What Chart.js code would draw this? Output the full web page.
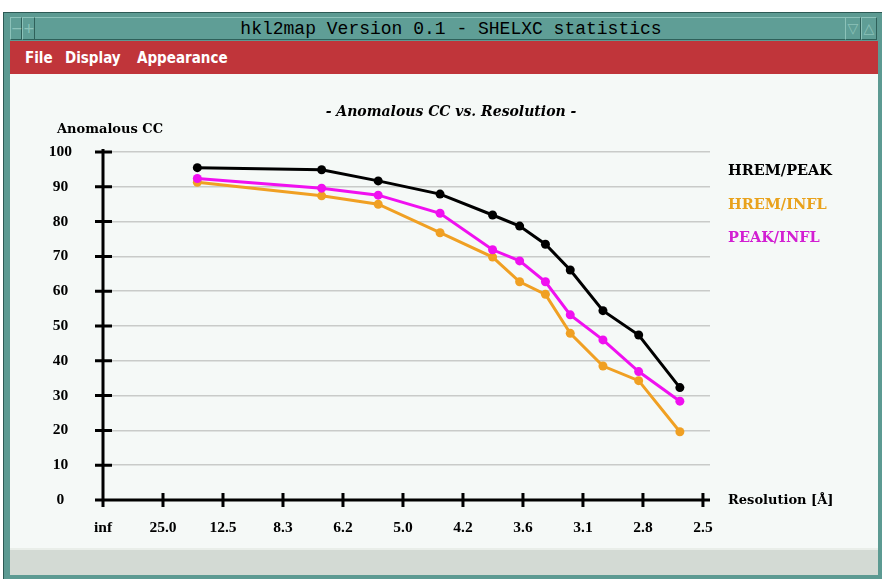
<!DOCTYPE html>
<html>
<head>
<meta charset="utf-8">
<script src="https://cdn.jsdelivr.net/npm/chart.js@4/dist/chart.umd.min.js"></script>
<style>
  body { margin: 0; width: 882px; height: 579px; background: #fff; position: relative; overflow: hidden; }
  .abs { position: absolute; }
  #frame { left: 3px; top: 12px; width: 900px; height: 580px; background: #5c9a92; border: 1px solid #2d5a55; box-sizing: border-box; }
  #titlebar { left: 10px; top: 17px; width: 835px; height: 23px; background: #5f9e96; border-top: 1px solid #8cc2b9; border-bottom: 1px solid #2f605a; box-sizing: border-box; }
  .btn { top: 17px; height: 23px; background: #5f9e96; border: 1px solid #8cc2b9; border-right-color: #2f605a; border-bottom-color: #2f605a; box-sizing: border-box; color: #8cc2b9; font: 14px 'DejaVu Sans', sans-serif; line-height: 20px; text-align: center; }
  #wintitle { left: 0; top: 18px; width: 902px; height: 23px; text-align: center; font: 18px 'Liberation Mono', 'DejaVu Sans Mono', monospace; line-height: 23px; color: #000; }
  #menubar { left: 10px; top: 41px; width: 868px; height: 33px; background: #c0353a; }
  .menu { top: 42px; color: #fff; font: bold 15px 'DejaVu Sans Condensed', 'DejaVu Sans', sans-serif; line-height: 33px; font-stretch: condensed; }
  #content { left: 10px; top: 74px; width: 868px; height: 474px; background: #f5f9f7; }
  #status { left: 10px; top: 548px; width: 868px; height: 27px; background: #d3dad4; border-top: 2px solid #e9eee9; box-sizing: border-box; }
  .txt { font-family: 'DejaVu Serif', serif; font-weight: bold; line-height: 20px; white-space: nowrap; }
</style>
</head>
<body>
<div id="frame" class="abs"></div>
<div id="titlebar" class="abs"></div>
<div class="abs btn" style="left:10px;width:12px;">&minus;</div>
<div class="abs btn" style="left:22px;width:13px;">+</div>
<div class="abs btn" style="left:845px;width:16px;">&#9661;</div>
<div class="abs btn" style="left:861px;width:16px;">&#9651;</div>
<div id="wintitle" class="abs">hkl2map Version 0.1 - SHELXC statistics</div>
<div id="menubar" class="abs"></div>
<div class="abs menu" style="left:25px;">File</div>
<div class="abs menu" style="left:65px;">Display</div>
<div class="abs menu" style="left:137px;">Appearance</div>
<div id="content" class="abs"><canvas id="cc" width="868" height="474"></canvas></div>
<div id="status" class="abs"></div>

<div class="abs txt" style="left:0;width:902px;top:101px;text-align:center;font-style:italic;font-size:14px;">- Anomalous CC vs. Resolution -</div>
<div class="abs txt" style="left:57px;top:119px;font-size:13px;">Anomalous CC</div>
<div class="abs txt" style="left:728px;top:490px;font-size:13px;">Resolution [&Aring;]</div>

<script>
// resolution of each shell (Angstrom)
const resolution = [15.9, 6.86, 5.45, 4.45, 3.85, 3.60, 3.39, 3.21, 3.00, 2.80, 2.60];
const hremPeak = [95.5, 94.9, 91.7, 87.9, 81.9, 78.7, 73.5, 66.1, 54.4, 47.4, 32.3];
const hremInfl = [91.3, 87.4, 85.0, 76.8, 69.8, 62.7, 59.1, 47.9, 38.5, 34.3, 19.6];
const peakInfl = [92.4, 89.6, 87.6, 82.4, 71.9, 68.7, 62.7, 53.2, 46.0, 36.9, 28.4];
const seriesNames = ['HREM/PEAK', 'HREM/INFL', 'PEAK/INFL'];
const xTickLabels = ['inf', '25.0', '12.5', '8.3', '6.2', '5.0', '4.2', '3.6', '3.1', '2.8', '2.5'];
const yTicks = [0, 10, 20, 30, 40, 50, 60, 70, 80, 90, 100];

const lineColors = ['#000000', '#f0a023', '#f010f0'];
const textColors = ['#000000', '#e9a21c', '#d21fd2'];

// x is plotted linear in 1/d, ticks every 0.04 (= 25 A, 12.5 A, ...)
const xTickValues = xTickLabels.map((l, i) => i * 0.04);
const toPts = vals => vals.map((v, i) => ({ x: 1 / resolution[i], y: v }));

// legend as plain text
const legendTop = [160, 193.5, 227];
seriesNames.forEach((name, i) => {
    const d = document.createElement('div');
    d.className = 'abs txt';
    d.style.cssText = `left:728px;top:${legendTop[i]}px;font-size:14.5px;color:${textColors[i]};`;
    d.textContent = name;
    document.body.appendChild(d);
});

// axes with cross ticks, drawn on top of the grid
const crossAxes = {
    id: 'crossAxes',
    beforeDatasetsDraw(chart) {
        const { ctx, chartArea, scales: { x, y } } = chart;
        const x0 = x.getPixelForValue(0), y0 = y.getPixelForValue(0);
        ctx.save();
        ctx.strokeStyle = '#000';
        ctx.lineWidth = 3;
        ctx.beginPath();
        ctx.moveTo(x0, y0 + 1);
        ctx.lineTo(x0, y.getPixelForValue(100) - 3);
        ctx.moveTo(x0 - 8, y0);
        ctx.lineTo(chartArea.right, y0);
        yTicks.forEach(v => {
            const py = y.getPixelForValue(v);
            ctx.moveTo(x0 - 8, py);
            ctx.lineTo(x0 + 9, py);
        });
        xTickValues.forEach(v => {
            const px = x.getPixelForValue(v);
            ctx.moveTo(px, y0 - 7);
            ctx.lineTo(px, y0 + 7);
        });
        ctx.stroke();
        ctx.restore();
    }
};

const tickFont = { family: "'Liberation Serif', serif", weight: 'bold', size: 15.5 };

new Chart(document.getElementById('cc'), {
    type: 'line',
    data: {
        datasets: [hremPeak, hremInfl, peakInfl].map((vals, i) => ({
            label: seriesNames[i],
            data: toPts(vals),
            borderColor: lineColors[i],
            backgroundColor: lineColors[i],
            borderWidth: 3,
            pointRadius: 4.5,
            pointBorderWidth: 0,
            tension: 0,
            order: [0, 2, 1][i]
        }))
    },
    options: {
        responsive: false,
        animation: false,
        layout: { padding: { left: 33, right: 168, top: 78, bottom: 8 } },
        plugins: { legend: { display: false }, tooltip: { enabled: false } },
        scales: {
            x: {
                type: 'linear',
                min: 0,
                max: 0.4047,
                afterBuildTicks: s => { s.ticks = xTickValues.map(v => ({ value: v })); },
                afterFit: s => { s.height = 40; },
                grid: { display: false, drawTicks: false },
                border: { display: false },
                ticks: {
                    padding: 19,
                    maxRotation: 0,
                    autoSkip: false,
                    color: '#000',
                    font: tickFont,
                    callback: (v, i) => xTickLabels[i]
                }
            },
            y: {
                min: 0,
                max: 100,
                afterBuildTicks: s => { s.ticks = yTicks.map(v => ({ value: v })); },
                afterFit: s => { s.width = 60; },
                grid: { color: '#c9cbc9', lineWidth: 1.5, drawTicks: false },
                border: { display: false },
                ticks: {
                    padding: 31,
                    crossAlign: 'center',
                    color: '#000',
                    font: tickFont
                }
            }
        }
    },
    plugins: [crossAxes]
});
</script>
</body>
</html>
